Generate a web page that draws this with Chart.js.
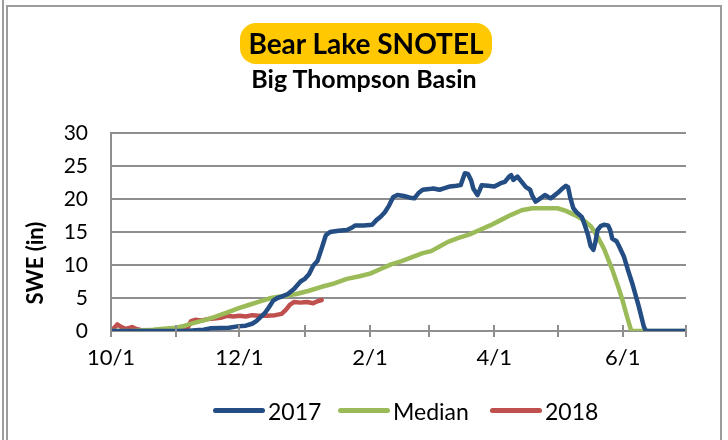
<!DOCTYPE html>
<html><head><meta charset="utf-8">
<script src="https://cdn.jsdelivr.net/npm/chart.js@4.4.1/dist/chart.umd.min.js"></script>
<style>
html,body{margin:0;padding:0;background:#fff;}
#wrap{position:relative;width:728px;height:440px;overflow:hidden;font-family:Lato,'Open Sans',sans-serif;color:#000;}
#c{position:absolute;left:0;top:0;}
.frame{position:absolute;left:6px;top:5px;width:716px;height:460px;box-sizing:border-box;border:2px solid #9c9c9c;border-bottom:none;}
.vline{position:absolute;left:2px;top:0;width:2px;height:440px;background:#9c9c9c;}
#title{position:absolute;left:240px;top:23px;width:252px;height:41px;background:#FFC800;border-radius:16px;font-weight:bold;font-size:28px;line-height:41px;text-align:center;}
#sub{position:absolute;left:0;width:728px;top:63px;text-align:center;font-weight:bold;font-size:25px;line-height:30px;}
#ytitle{position:absolute;left:34px;top:263px;transform:translate(-50%,-50%) rotate(-90deg);font-weight:bold;font-size:22px;white-space:nowrap;}
.it{position:absolute;top:398px;height:25px;display:flex;align-items:center;font-size:23px;white-space:nowrap;}
.it .sw{display:inline-block;width:52px;height:5px;border-radius:3px;margin-right:3px;}
</style></head>
<body>
<div id="wrap">
<canvas id="c" width="728" height="440"></canvas>
<div class="vline"></div>
<div class="frame"></div>
<div id="title">Bear Lake SNOTEL</div>
<div id="sub">Big Thompson Basin</div>
<div id="ytitle">SWE (in)</div>
</div>
<script>
// x values are days since 10/1
const monthDays = [0, 31, 61, 92, 123, 151, 182, 212, 243, 273];
const monthLabels = ["10/1", "11/1", "12/1", "1/1", "2/1", "3/1", "4/1", "5/1", "6/1", "7/1"];
const shownLabels = ["10/1", "12/1", "2/1", "4/1", "6/1"];
const yTicks = [0, 5, 10, 15, 20, 25, 30];

const seriesNames = ["2017", "Median", "2018"];
const seriesColors = ["#234D83", "#9BBB59", "#C0504D"];

const days2017 = [0,36,40,44,47,52,56,60,64,67,69,71,73,75,77,79,81,84,87,90,92,94,96,98,100,102,104,108,112,114,116,120,124,126,128,130,132,134,136,139,142,144,146,148,151,153,156,158,161,164,166,167,168,169.5,171,172,174,175,176,179,182,185,187,189,190,191,193,195,197,199,200,201.6,203,206,208.7,210,212,214,216,217,218,219.5,221,223.5,225,226.5,227.7,229,230,231,232.5,234,236,237,238,240,241,243.5,245.5,247.5,250.6,253,254,273];
const swe2017 = [0,0,0.1,0.2,0.4,0.45,0.5,0.7,0.8,1.1,1.5,2.1,2.7,3.6,4.6,5.0,5.2,5.6,6.4,7.5,7.9,8.6,9.9,10.6,12.5,14.5,15.0,15.2,15.3,15.6,16.0,16.0,16.1,16.8,17.3,18.0,19.0,20.3,20.6,20.45,20.2,20.1,20.9,21.4,21.5,21.6,21.4,21.6,21.9,22.0,22.1,23.0,23.9,23.8,22.8,21.6,20.6,21.3,22.1,22.0,21.9,22.4,22.6,23.4,23.6,22.9,23.4,22.6,21.8,21.4,20.5,19.6,19.9,20.6,20.1,20.4,20.9,21.5,22.0,21.8,20.3,18.6,18.0,17.3,16.0,14.5,12.9,12.3,13.5,15.3,15.9,16.1,16.0,15.3,14.0,13.6,13.0,11.3,9.2,7.2,3.7,0.65,0,0];

const daysMedian = [0,10,15,20,25,31,35,39,44,49,55,61,65,70,76,82,88,94,100,106,112,118,123,128,133,138,143,148,152,156,160,165,170,175,180,185,190,195,200,206,212,216,220,224,228,231,234,238,241,243,245,247,273];
const sweMedian = [0,0,0.1,0.2,0.35,0.5,0.8,1.2,1.6,2.1,2.8,3.5,3.9,4.4,5.0,5.3,5.6,6.1,6.7,7.2,7.9,8.3,8.7,9.4,10.1,10.6,11.2,11.8,12.1,12.8,13.5,14.1,14.6,15.3,16.0,16.8,17.6,18.3,18.6,18.6,18.6,18.2,17.6,16.9,15.8,14.3,12.5,9.3,6.5,4.5,2.2,0,0];

const days2018 = [0,1,3,5,7,10,12,15,20,25,30,35,36,38,40,43,46,49,52,55,58,61,64,67,70,74,78,81,83,85,87,90,93,96,98,100];
const swe2018 = [0,0.3,1.0,0.6,0.3,0.6,0.3,0.1,0.1,0.1,0.1,0.1,0.2,1.5,1.7,1.6,1.8,1.9,2.0,2.3,2.2,2.3,2.2,2.4,2.3,2.3,2.4,2.6,3.2,4.0,4.4,4.3,4.4,4.2,4.5,4.7];

const allDays = [days2017, daysMedian, days2018];
const allVals = [swe2017, sweMedian, swe2018];
const legendLeft = [213, 338, 490];

const GRID = "#8e8e8e";

const crossTicks = {
  id: "crossTicks",
  afterDatasetsDraw(chart) {
    const xs = chart.scales.x, ctx = chart.ctx;
    const yb = chart.chartArea.bottom;
    ctx.save();
    ctx.strokeStyle = GRID;
    ctx.lineWidth = 2;
    monthDays.forEach(v => {
      const px = Math.round(xs.getPixelForValue(v));
      ctx.beginPath();
      ctx.moveTo(px, yb - 6);
      ctx.lineTo(px, yb + 6);
      ctx.stroke();
    });
    ctx.restore();
  }
};

const datasets = seriesNames.map((name, i) => ({
  label: name,
  data: allDays[i].map((d, k) => ({ x: d, y: allVals[i][k] })),
  borderColor: seriesColors[i],
  backgroundColor: seriesColors[i],
  borderWidth: 4.5,
  pointRadius: 0,
  tension: 0,
  borderJoinStyle: "round",
  borderCapStyle: "round",
  fill: false
}));

new Chart(document.getElementById("c"), {
  type: "line",
  data: { datasets },
  options: {
    responsive: false,
    animation: false,
    devicePixelRatio: 1,
    layout: { padding: { left: 0, right: 42, top: 133, bottom: 69 } },
    plugins: { legend: { display: false }, tooltip: { enabled: false }, title: { display: false } },
    scales: {
      x: {
        type: "linear",
        min: 0,
        max: 273,
        afterBuildTicks(axis) { axis.ticks = monthDays.map(v => ({ value: v })); },
        afterFit(axis) { axis.height = 40; },
        ticks: {
          autoSkip: false,
          maxRotation: 0,
          padding: 14,
          color: "#000",
          font: { family: "Lato", size: 22 },
          callback(v) {
            const lab = monthLabels[monthDays.indexOf(v)];
            return shownLabels.includes(lab) ? lab : "";
          }
        },
        grid: { drawOnChartArea: false, drawTicks: false },
        border: { color: GRID, width: 2 }
      },
      y: {
        min: 0,
        max: 30,
        afterBuildTicks(axis) { axis.ticks = yTicks.map(v => ({ value: v })); },
        afterFit(axis) { axis.width = 111; },
        ticks: { padding: 23, color: "#000", font: { family: "Lato", size: 21 } },
        grid: { color: GRID, lineWidth: 2, drawTicks: false },
        border: { color: GRID, width: 2 }
      }
    }
  },
  plugins: [crossTicks]
});

const wrap = document.getElementById("wrap");
seriesNames.forEach((n, i) => {
  const it = document.createElement("div");
  it.className = "it";
  it.style.left = legendLeft[i] + "px";
  const sw = document.createElement("span");
  sw.className = "sw";
  sw.style.background = seriesColors[i];
  const tx = document.createElement("span");
  tx.textContent = n;
  it.appendChild(sw); it.appendChild(tx);
  wrap.appendChild(it);
});
</script>
</body></html>
